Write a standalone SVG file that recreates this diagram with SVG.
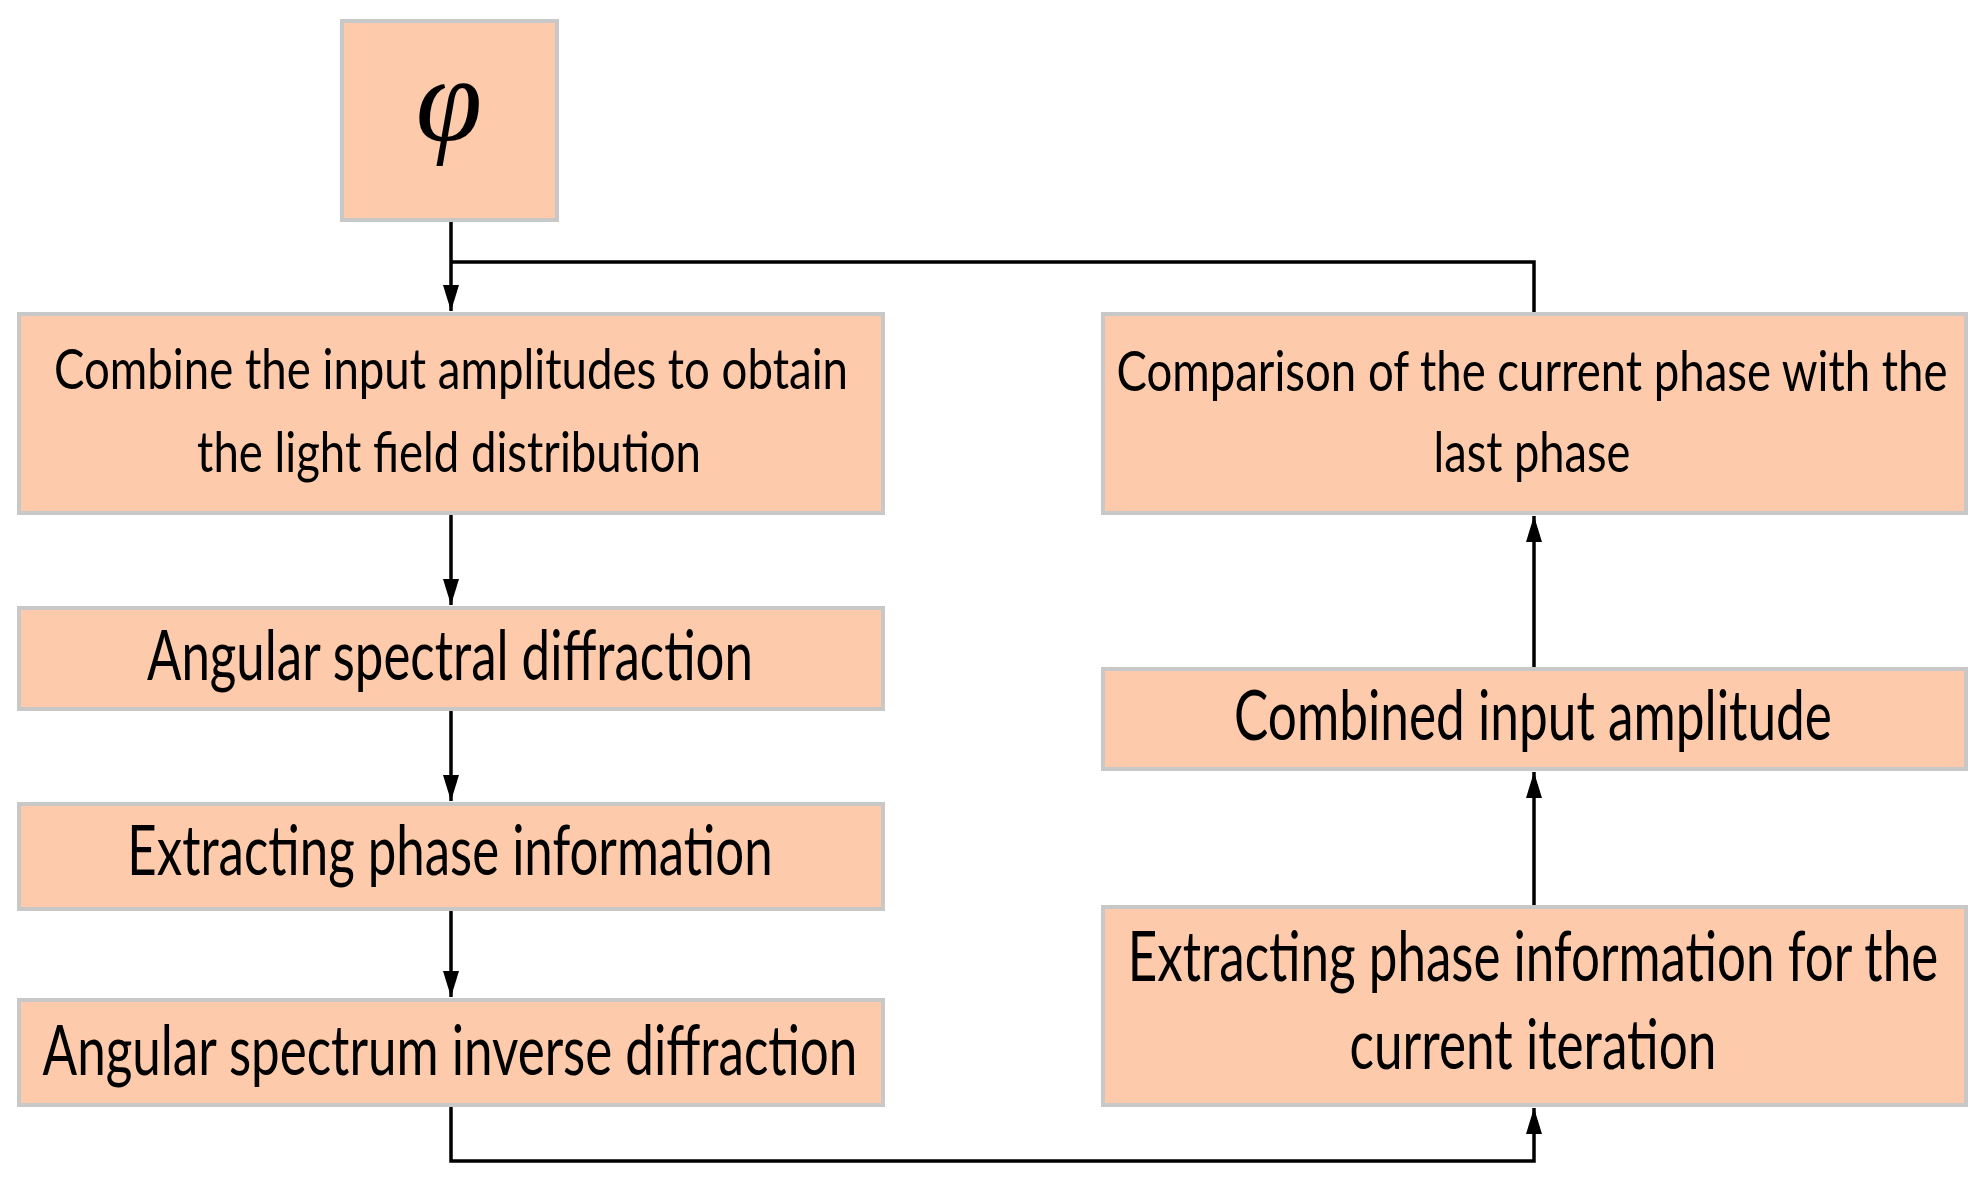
<svg xmlns="http://www.w3.org/2000/svg" width="1984" height="1179" viewBox="0 0 1984 1179">
<style>
.box{fill:#FDCBAB;stroke:#C8C8C8;stroke-width:4}
.t{font-family:Lato,"Open Sans","Liberation Sans",sans-serif;fill:#000;text-anchor:middle}
.s{font-size:57px}
.l{font-size:70px}
.c{fill:none;stroke:#000;stroke-width:3.5}
</style>
<defs>
<marker id="ah" markerUnits="userSpaceOnUse" markerWidth="28" markerHeight="18" refX="26" refY="8" orient="auto">
<path d="M0,0 L26,8 L0,16 z" fill="#000"/>
</marker>
</defs>
<rect width="1984" height="1179" fill="#fff"/>
<g id="connectors">
<path class="c" d="M451,222 V311" marker-end="url(#ah)"/>
<path class="c" d="M1534,312 V262 H451"/>
<path class="c" d="M451,515 V605" marker-end="url(#ah)"/>
<path class="c" d="M451,711 V801" marker-end="url(#ah)"/>
<path class="c" d="M451,911 V997" marker-end="url(#ah)"/>
<path class="c" d="M451,1107 V1161 H1534 V1108" marker-end="url(#ah)"/>
<path class="c" d="M1534,905 V772" marker-end="url(#ah)"/>
<path class="c" d="M1534,667 V516" marker-end="url(#ah)"/>
</g>
<g id="phi">
<rect class="box" x="342" y="21" width="215" height="199"/>
<text x="449" y="140" font-family="'Liberation Serif','DejaVu Serif',serif" font-style="italic" font-size="120" text-anchor="middle">φ</text>
</g>
<g id="combine">
<rect class="box" x="19" y="314" width="864" height="199"/>
<g transform="scale(0.74 1)">
<text class="t s" x="609.5" y="389" textLength="1073" lengthAdjust="spacingAndGlyphs">Combine the input amplitudes to obtain</text>
<text class="t s" x="606.8" y="472" textLength="681" lengthAdjust="spacingAndGlyphs">the light field distribution</text>
</g>
</g>
<g id="angular-diffraction">
<rect class="box" x="19" y="608" width="864" height="101"/>
<g transform="scale(0.74 1)">
<text class="t l" x="608.1" y="680" textLength="819" lengthAdjust="spacingAndGlyphs">Angular spectral diffraction</text>
</g>
</g>
<g id="extract-phase">
<rect class="box" x="19" y="804" width="864" height="105"/>
<g transform="scale(0.74 1)">
<text class="t l" x="608.1" y="875" textLength="872" lengthAdjust="spacingAndGlyphs">Extracting phase information</text>
</g>
</g>
<g id="inverse-diffraction">
<rect class="box" x="19" y="1000" width="864" height="105"/>
<g transform="scale(0.74 1)">
<text class="t l" x="608.1" y="1075" textLength="1101" lengthAdjust="spacingAndGlyphs">Angular spectrum inverse diffraction</text>
</g>
</g>
<g id="comparison">
<rect class="box" x="1103" y="314" width="863" height="199"/>
<g transform="scale(0.74 1)">
<text class="t s" x="2070.3" y="391" textLength="1123" lengthAdjust="spacingAndGlyphs">Comparison of the current phase with the</text>
<text class="t s" x="2070.3" y="472" textLength="266" lengthAdjust="spacingAndGlyphs">last phase</text>
</g>
</g>
<g id="combined-amplitude">
<rect class="box" x="1103" y="669" width="863" height="100"/>
<g transform="scale(0.74 1)">
<text class="t l" x="2071.6" y="740" textLength="808" lengthAdjust="spacingAndGlyphs">Combined input amplitude</text>
</g>
</g>
<g id="extract-current">
<rect class="box" x="1103" y="907" width="863" height="198"/>
<g transform="scale(0.74 1)">
<text class="t l" x="2071.6" y="981" textLength="1095" lengthAdjust="spacingAndGlyphs">Extracting phase information for the</text>
<text class="t l" x="2071.6" y="1069" textLength="496" lengthAdjust="spacingAndGlyphs">current iteration</text>
</g>
</g>
</svg>
